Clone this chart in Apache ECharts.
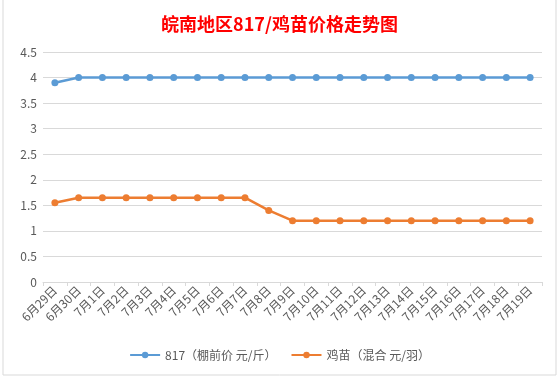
<!DOCTYPE html>
<html><head><meta charset="utf-8">
<script src="https://cdn.jsdelivr.net/npm/echarts@6/dist/echarts.min.js"></script>
<style>html,body{margin:0;padding:0;background:#fff}#c{width:559px;height:379px}</style>
</head><body><div id="c"></div>
<script>
var categories = ['6月29日','6月30日','7月1日','7月2日','7月3日','7月4日','7月5日','7月6日','7月7日','7月8日','7月9日','7月10日','7月11日','7月12日','7月13日','7月14日','7月15日','7月16日','7月17日','7月18日','7月19日'];
var price817 = [3.9,4,4,4,4,4,4,4,4,4,4,4,4,4,4,4,4,4,4,4,4];
var chickPrice = [1.55,1.65,1.65,1.65,1.65,1.65,1.65,1.65,1.65,1.4,1.2,1.2,1.2,1.2,1.2,1.2,1.2,1.2,1.2,1.2,1.2];
var seriesNames = ['817（棚前价 元/斤）','鸡苗（混合 元/羽）'];
var titleText = '皖南地区817/鸡苗价格走势图';

var chart = echarts.init(document.getElementById('c'));
var font = '"Noto Sans CJK SC","Noto Sans",sans-serif';
chart.setOption({
  animation: false,
  backgroundColor: '#fff',
  textStyle: {fontFamily: font},
  title: {text: titleText, left: 'center', top: 10,
    textStyle: {color: '#ff0000', fontSize: 18, fontWeight: 'bold', fontFamily: font}},
  graphic: [{type: 'rect', shape: {x: 3, y: -1, width: 553, height: 376},
    style: {fill: 'none', stroke: '#d9d9d9', lineWidth: 1}, silent: true}],
  legend: {bottom: 13, left: 'center', itemWidth: 30, itemHeight: 8, itemGap: 14,
    textStyle: {color: '#595959', fontSize: 12, fontFamily: font},
    data: seriesNames},
  grid: {left: 43, right: 17, top: 52, bottom: 97},
  xAxis: {type: 'category', data: categories, boundaryGap: true,
    axisLine: {lineStyle: {color: '#d9d9d9'}},
    axisTick: {show: true, length: 4, lineStyle: {color: '#d9d9d9'}},
    axisLabel: {rotate: 45, color: '#595959', fontSize: 12, interval: 0, margin: 6, fontFamily: font}},
  yAxis: {type: 'value', min: 0, max: 4.5, interval: 0.5,
    axisLine: {show: false}, axisTick: {show: false},
    axisLabel: {color: '#595959', fontSize: 12, margin: 6, fontFamily: font},
    splitLine: {lineStyle: {color: '#d9d9d9'}}},
  series: [
    {name: seriesNames[0], type: 'line', data: price817, symbol: 'circle', symbolSize: 7,
      itemStyle: {color: '#5b9bd5'}, lineStyle: {width: 2.5, color: '#5b9bd5'}},
    {name: seriesNames[1], type: 'line', data: chickPrice, symbol: 'circle', symbolSize: 7,
      itemStyle: {color: '#ed7d31'}, lineStyle: {width: 2.5, color: '#ed7d31'}}
  ]
});
</script></body></html>
